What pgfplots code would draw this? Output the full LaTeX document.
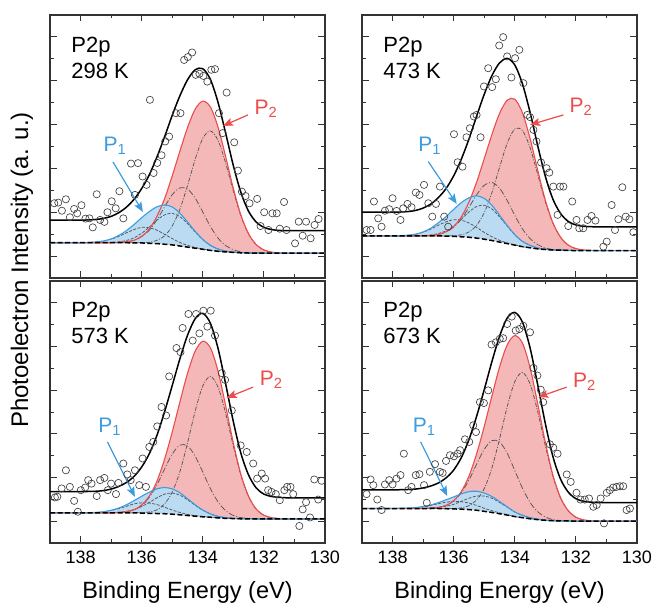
\documentclass[border=0pt]{standalone}
\usepackage{fontspec}
\setmainfont{Liberation Sans}
\usepackage{pgfplots}
\pgfplotsset{compat=1.18}
\usepackage{pgfplotstable}
\usepgfplotslibrary{fillbetween}
\usetikzlibrary{arrows.meta}

\definecolor{redline}{HTML}{EE4B4B}
\definecolor{redfill}{HTML}{F5B8B8}
\definecolor{blueline}{HTML}{3D9BDE}
\definecolor{bluefill}{HTML}{BADBF2}
\definecolor{compgray}{HTML}{555555}
\definecolor{framecol}{HTML}{333333}

% columns: x, baseline, P2a, P2b, P1a, P1b (components above baseline)
\pgfplotstableread{
x base a b c d
139 1.61 0 0 0 0
138.75 1.61 0 0 0 0
138.5 1.61 0 0 0 0
138.25 1.61 0 0 0 0
138 1.61 0 0 0 0
137.75 1.61 0 0 0 0.01
137.5 1.61 0 0 0 0.03
137.25 1.61 0 0 0 0.08
137 1.61 0 0 0.01 0.16
136.75 1.61 0 0.01 0.04 0.29
136.5 1.61 0 0.04 0.10 0.45
136.25 1.60 0 0.12 0.23 0.61
136 1.60 0.01 0.29 0.44 0.71
135.75 1.58 0.05 0.60 0.74 0.71
135.5 1.57 0.15 1.09 1.07 0.61
135.25 1.54 0.38 1.70 1.34 0.45
135 1.51 0.86 2.29 1.44 0.29
134.75 1.46 1.67 2.65 1.34 0.16
134.5 1.41 2.80 2.65 1.07 0.08
134.25 1.36 4.05 2.29 0.74 0.03
134 1.31 5.06 1.70 0.44 0.01
133.75 1.26 5.45 1.09 0.23 0
133.5 1.22 5.06 0.60 0.10 0
133.25 1.19 4.05 0.29 0.04 0
133 1.17 2.80 0.12 0.01 0
132.75 1.15 1.67 0.04 0 0
132.5 1.14 0.86 0.01 0 0
132.25 1.14 0.38 0 0 0
132 1.13 0.15 0 0 0
131.75 1.13 0.05 0 0 0
131.5 1.13 0.01 0 0 0
131.25 1.13 0 0 0 0
131 1.13 0 0 0 0
130.75 1.13 0 0 0 0
130.5 1.13 0 0 0 0
130.25 1.13 0 0 0 0
130 1.13 0 0 0 0
}\tA

\pgfplotstableread{
x base a b c d
139 1.92 0 0 0 0
138.75 1.92 0 0 0 0
138.5 1.92 0 0 0 0
138.25 1.92 0 0 0 0
138 1.92 0 0 0 0
137.75 1.92 0 0 0 0.01
137.5 1.92 0 0 0 0.03
137.25 1.92 0 0 0 0.08
137 1.92 0 0.01 0.01 0.17
136.75 1.92 0 0.02 0.04 0.31
136.5 1.92 0 0.07 0.11 0.49
136.25 1.91 0.01 0.19 0.24 0.65
136 1.90 0.03 0.42 0.47 0.76
135.75 1.88 0.09 0.81 0.80 0.76
135.5 1.86 0.24 1.36 1.15 0.65
135.25 1.82 0.58 1.97 1.44 0.49
135 1.77 1.21 2.46 1.55 0.31
134.75 1.71 2.18 2.65 1.44 0.17
134.5 1.64 3.40 2.46 1.15 0.08
134.25 1.57 4.57 1.97 0.80 0.03
134 1.50 5.30 1.36 0.47 0.01
133.75 1.43 5.30 0.81 0.24 0
133.5 1.38 4.57 0.42 0.11 0
133.25 1.33 3.40 0.19 0.04 0
133 1.30 2.18 0.07 0.01 0
132.75 1.28 1.21 0.02 0 0
132.5 1.27 0.58 0.01 0 0
132.25 1.26 0.24 0 0 0
132 1.25 0.09 0 0 0
131.75 1.25 0.03 0 0 0
131.5 1.25 0.01 0 0 0
131.25 1.25 0 0 0 0
131 1.25 0 0 0 0
130.75 1.25 0 0 0 0
130.5 1.25 0 0 0 0
130.25 1.25 0 0 0 0
130 1.25 0 0 0 0
}\tB

\pgfplotstableread{
x base a b c d
139 1.38 0 0 0 0
138.75 1.38 0 0 0 0
138.5 1.38 0 0 0 0
138.25 1.38 0 0 0 0
138 1.38 0 0 0 0
137.75 1.38 0 0 0 0.01
137.5 1.38 0 0 0 0.02
137.25 1.38 0 0 0 0.05
137 1.38 0 0 0.01 0.11
136.75 1.38 0 0.02 0.03 0.19
136.5 1.38 0 0.05 0.07 0.30
136.25 1.38 0 0.14 0.15 0.41
136 1.37 0.02 0.35 0.30 0.47
135.75 1.36 0.06 0.73 0.50 0.47
135.5 1.35 0.17 1.31 0.72 0.41
135.25 1.34 0.45 2.05 0.90 0.30
135 1.32 1.01 2.75 0.97 0.19
134.75 1.29 1.97 3.19 0.90 0.11
134.5 1.26 3.32 3.19 0.72 0.05
134.25 1.23 4.80 2.75 0.50 0.02
134 1.20 5.99 2.05 0.30 0.01
133.75 1.18 6.45 1.31 0.15 0
133.5 1.15 5.99 0.73 0.07 0
133.25 1.13 4.80 0.35 0.03 0
133 1.12 3.32 0.14 0.01 0
132.75 1.11 1.97 0.05 0 0
132.5 1.11 1.01 0.02 0 0
132.25 1.10 0.45 0 0 0
132 1.10 0.17 0 0 0
131.75 1.10 0.06 0 0 0
131.5 1.10 0.02 0 0 0
131.25 1.10 0 0 0 0
131 1.10 0 0 0 0
130.75 1.10 0 0 0 0
130.5 1.10 0 0 0 0
130.25 1.10 0 0 0 0
130 1.10 0 0 0 0
}\tC

\pgfplotstableread{
x base a b c d
139 1.58 0 0 0 0
138.75 1.58 0 0 0 0
138.5 1.58 0 0 0 0
138.25 1.58 0 0 0 0
138 1.58 0 0 0 0
137.75 1.58 0 0 0 0.01
137.5 1.58 0 0 0 0.02
137.25 1.58 0 0 0 0.04
137 1.58 0 0 0.01 0.08
136.75 1.58 0 0.02 0.02 0.14
136.5 1.58 0 0.05 0.05 0.22
136.25 1.57 0 0.15 0.11 0.30
136 1.56 0.02 0.36 0.21 0.34
135.75 1.55 0.06 0.75 0.36 0.34
135.5 1.53 0.18 1.35 0.52 0.30
135.25 1.50 0.47 2.11 0.65 0.22
135 1.45 1.04 2.84 0.70 0.14
134.75 1.40 2.03 3.29 0.65 0.08
134.5 1.34 3.42 3.29 0.52 0.04
134.25 1.28 4.95 2.84 0.36 0.02
134 1.21 6.18 2.11 0.21 0
133.75 1.16 6.65 1.35 0.11 0
133.5 1.11 6.18 0.75 0.05 0
133.25 1.07 4.95 0.36 0.02 0
133 1.04 3.42 0.15 0.01 0
132.75 1.02 2.03 0.05 0 0
132.5 1.01 1.04 0.02 0 0
132.25 1.01 0.47 0 0 0
132 1.00 0.18 0 0 0
131.75 1.00 0.06 0 0 0
131.5 1.00 0.02 0 0 0
131.25 1.00 0 0 0 0
131 1.00 0 0 0 0
130.75 1.00 0 0 0 0
130.5 1.00 0 0 0 0
130.25 1.00 0 0 0 0
130 1.00 0 0 0 0
}\tD

\pgfplotsset{
  panel/.style={
    scale only axis, width=275pt,
    xmin=130, xmax=139, x dir=reverse, ymin=0, ymax=12,
    xtick={130,132,134,136,138}, minor xtick={131,133,135,137,139},
    ytick={1,3,5,7,9,11}, minor ytick={2,4,6,8,10},
    yticklabels={},
    tick align=inside, tick pos=both,
    major tick length=6.5pt, minor tick length=3.5pt,
    every tick/.style={framecol, line width=0.9pt},
    axis line style={framecol, line width=1.1pt},
    xticklabel style={font=\fontsize{18}{20}\selectfont, yshift=-4pt},
    /pgf/number format/assume math mode=true,
  },
  comp/.style={compgray, line width=0.75pt, smooth},
}

\newcommand{\curves}[3]{%
  \addplot[draw=none, smooth, name path=B#3, forget plot] table[x=x, y=base]{#1};
  \addplot[draw=none, smooth, name path=R#3, forget plot] table[x=x, y expr=\thisrow{base}+\thisrow{a}+\thisrow{b}]{#1};
  \addplot[draw=none, smooth, name path=U#3, forget plot] table[x=x, y expr=\thisrow{base}+\thisrow{c}+\thisrow{d}]{#1};
  \addplot[fill=redfill, draw=none, forget plot] fill between[of=R#3 and B#3];
  \addplot[fill=bluefill, draw=none, forget plot] fill between[of=U#3 and B#3];
  \addplot[comp, dash pattern=on 4pt off 1.5pt on 1pt off 1.5pt] table[x=x, y expr=\thisrow{base}+\thisrow{a}]{#1};
  \addplot[comp, dash pattern=on 6pt off 2pt on 1pt off 2pt] table[x=x, y expr=\thisrow{base}+\thisrow{b}]{#1};
  \addplot[comp, dash pattern=on 3pt off 1.5pt] table[x=x, y expr=\thisrow{base}+\thisrow{c}]{#1};
  \addplot[comp, dash pattern=on 3pt off 1.5pt] table[x=x, y expr=\thisrow{base}+\thisrow{d}]{#1};
  \addplot[redline, line width=1.1pt, smooth] table[x=x, y expr=\thisrow{base}+\thisrow{a}+\thisrow{b}]{#1};
  \addplot[blueline, line width=1.1pt, smooth] table[x=x, y expr=\thisrow{base}+\thisrow{c}+\thisrow{d}]{#1};
  \addplot[black, line width=1.5pt, dash pattern=on 5pt off 2.5pt, smooth] table[x=x, y=base]{#1};
  \addplot[black, line width=1.5pt, smooth] table[x=x, y expr=\thisrow{base}+\thisrow{a}+\thisrow{b}+\thisrow{c}+\thisrow{d}+#2]{#1};
}

\tikzset{
  pts/.style={only marks, mark=o, mark size=3.6pt, mark options={line width=0.65pt, draw=black!75}},
  lab/.style={anchor=base west, font=\fontsize{22}{26}\selectfont},
  plab/.style={anchor=base west, font=\fontsize{21}{25}\selectfont},
  arr/.style={-{Stealth[length=10pt,width=8pt,inset=2pt]}, line width=1.2pt},
}

\begin{document}
\begin{tikzpicture}

% ---------------- 298 K ----------------
\begin{axis}[panel, height=263pt, at={(50pt,326pt)}, anchor=south west, xticklabels={}]
\curves{\tA}{1.03}{a}
\addplot[pts] coordinates {
(138.86,3.41) (138.73,3.44) (138.61,3.07) (138.48,3.59) (138.35,2.77) (138.21,3.15) (138.11,2.95) (137.97,3.32) (137.84,2.71) (137.71,2.72) (137.60,2.31) (137.47,3.82) (137.36,2.65) (137.22,2.56) (137.12,3.00) (136.98,3.50) (136.85,3.18) (136.73,3.96) (136.60,2.72) (136.35,5.22) (136.22,3.79) (136.12,5.24) (135.97,4.63) (135.84,4.25) (135.73,8.13) (135.61,4.79) (135.49,5.25) (135.35,5.60) (135.23,6.23) (135.10,6.45) (134.88,7.52) (134.73,7.52) (134.61,9.95) (134.49,10.08) (134.35,10.29) (134.23,9.27) (134.11,9.32) (133.98,9.22) (133.85,8.96) (133.72,9.50) (133.60,9.53) (133.47,7.52) (133.35,6.61) (133.22,8.46) (132.97,6.19) (132.85,4.90) (132.72,3.94) (132.60,3.74) (132.47,3.41) (132.22,3.61) (132.11,2.37) (131.99,3.00) (131.85,2.19) (131.72,2.95) (131.58,2.95) (131.48,2.25) (131.34,3.47) (131.26,2.19) (130.98,1.58) (130.86,2.57) (130.73,1.93) (130.62,2.57) (130.47,1.81) (130.34,2.42) (130.21,2.69)
};
\node[lab] at (rel axis cs:0.065,0.857) {P2p};
\node[lab] at (rel axis cs:0.065,0.759) {298 K};
\draw[arr, blueline] (axis cs:136.94,5.30) -- (axis cs:135.96,3.01);
\draw[arr, redline] (axis cs:132.52,7.44) -- (axis cs:133.34,6.94);
\node[plab, blueline] at (axis cs:137.36,5.77) {P\textsubscript{1}};
\node[plab, redline] at (axis cs:132.42,7.48) {P\textsubscript{2}};
\end{axis}

% ---------------- 473 K ----------------
\begin{axis}[panel, height=263pt, at={(362pt,326pt)}, anchor=south west, xticklabels={}]
\curves{\tB}{1.08}{b}
\addplot[pts] coordinates {
(138.85,2.19) (138.72,2.19) (138.61,3.49) (138.47,2.72) (138.36,2.34) (138.25,3.07) (138.11,3.14) (138.00,3.64) (137.87,3.06) (137.74,2.65) (137.65,3.18) (137.51,3.38) (137.38,3.23) (137.24,3.90) (137.12,3.79) (136.97,4.25) (136.83,3.41) (136.70,2.80) (136.58,3.38) (136.45,4.17) (136.31,2.80) (136.18,2.34) (135.99,6.56) (135.87,5.28) (135.71,5.08) (135.58,6.42) (135.47,6.83) (135.34,7.37) (135.25,7.44) (135.12,6.42) (135.01,8.74) (134.87,9.57) (134.74,8.71) (134.62,9.07) (134.51,10.61) (134.38,10.99) (134.25,10.11) (134.11,9.15) (133.99,10.03) (133.85,10.41) (133.72,8.89) (133.59,7.44) (133.50,7.34) (133.39,6.76) (133.29,6.23) (133.14,5.27) (132.96,5.01) (132.87,4.81) (132.74,4.17) (132.60,2.88) (132.52,4.17) (132.41,4.17) (132.25,2.37) (132.12,3.49) (131.98,2.65) (131.89,2.27) (131.76,2.27) (131.62,2.65) (131.49,2.83) (131.36,2.62) (131.10,1.43) (130.99,1.66) (130.83,3.33) (130.72,2.19) (130.61,2.68) (130.48,4.14) (130.37,2.80) (130.25,2.68) (130.12,2.09)
};
\node[lab] at (rel axis cs:0.065,0.857) {P2p};
\node[lab] at (rel axis cs:0.065,0.759) {473 K};
\draw[arr, blueline] (axis cs:136.83,5.31) -- (axis cs:135.90,3.38);
\draw[arr, redline] (axis cs:132.41,7.44) -- (axis cs:133.50,6.99);
\node[plab, blueline] at (axis cs:137.27,5.77) {P\textsubscript{1}};
\node[plab, redline] at (axis cs:132.32,7.55) {P\textsubscript{2}};
\end{axis}

% ---------------- 573 K ----------------
\begin{axis}[panel, height=262pt, at={(50pt,61pt)}, anchor=south west,
  xticklabels={130,132,134,136,138},
  xlabel={Binding Energy (eV)},
  xlabel style={font=\fontsize{23.5}{28}\selectfont, at={(axis description cs:0.5,-0.189)}, anchor=center}]
\curves{\tC}{0.97}{c}
\addplot[pts] coordinates {
(138.84,2.09) (138.76,2.12) (138.62,2.50) (138.48,3.33) (138.35,2.57) (138.21,1.93) (138.09,1.43) (137.99,2.42) (137.85,2.54) (137.75,2.88) (137.64,2.72) (137.47,2.15) (137.36,2.88) (137.22,2.98) (137.11,2.42) (137.00,2.72) (136.84,2.24) (136.76,2.75) (136.60,3.64) (136.47,3.14) (136.36,2.88) (136.22,3.33) (136.08,2.65) (135.97,3.87) (135.86,2.57) (135.75,4.40) (135.62,4.63) (135.49,5.34) (135.35,6.23) (135.20,5.84) (135.10,7.63) (134.86,8.93) (134.73,8.74) (134.66,9.85) (134.47,10.49) (134.33,9.27) (134.22,10.49) (134.11,9.60) (133.98,10.64) (133.85,9.91) (133.74,10.64) (133.60,9.50) (133.38,7.78) (133.27,7.47) (133.05,6.07) (132.76,4.47) (132.56,4.17) (132.35,3.64) (132.22,2.95) (132.07,3.18) (131.96,2.95) (131.86,2.42) (131.75,2.34) (131.61,2.24) (131.48,1.96) (131.33,2.42) (131.24,2.57) (131.13,2.57) (131.04,2.24) (130.84,0.78) (130.73,1.54) (130.62,1.87) (130.49,1.17) (130.35,2.91) (130.22,1.99) (130.11,2.85)
};
\node[lab] at (rel axis cs:0.065,0.862) {P2p};
\node[lab] at (rel axis cs:0.065,0.762) {573 K};
\draw[arr, blueline] (axis cs:137.12,4.63) -- (axis cs:136.22,2.11);
\draw[arr, redline] (axis cs:132.35,7.14) -- (axis cs:133.22,6.65);
\node[plab, blueline] at (axis cs:137.53,5.08) {P\textsubscript{1}};
\node[plab, redline] at (axis cs:132.25,7.21) {P\textsubscript{2}};
\end{axis}

% ---------------- 673 K ----------------
\begin{axis}[panel, height=262pt, at={(362pt,61pt)}, anchor=south west,
  xticklabels={130,132,134,136,138},
  xlabel={Binding Energy (eV)},
  xlabel style={font=\fontsize{23.5}{28}\selectfont, at={(axis description cs:0.5,-0.189)}, anchor=center}]
\curves{\tD}{0.85}{d}
\addplot[pts] coordinates {
(138.85,2.24) (138.72,2.91) (138.63,2.65) (138.50,1.99) (138.36,1.51) (138.25,2.68) (138.11,2.88) (138.00,2.68) (137.87,2.95) (137.74,3.11) (137.63,4.09) (137.49,2.42) (137.38,2.57) (137.24,3.11) (137.12,3.15) (136.97,2.65) (136.88,1.84) (136.78,3.26) (136.61,3.61) (136.45,3.26) (136.36,3.21) (136.25,3.76) (136.12,4.02) (135.99,3.97) (135.87,4.09) (135.79,4.25) (135.63,4.75) (135.49,4.63) (135.36,5.39) (135.27,5.08) (135.14,6.45) (135.01,6.41) (134.87,6.99) (134.76,9.09) (134.62,9.19) (134.49,9.35) (134.38,9.38) (134.25,10.03) (134.10,10.37) (133.97,9.73) (133.85,9.80) (133.72,9.95) (133.50,9.65) (133.39,8.02) (133.26,7.67) (133.15,7.02) (133.07,6.45) (132.85,4.52) (132.74,4.37) (132.60,4.09) (132.30,3.14) (132.17,2.80) (131.98,2.30) (131.85,1.99) (131.71,1.99) (131.57,2.04) (131.43,1.66) (131.32,1.74) (131.19,2.04) (131.08,0.90) (130.99,2.30) (130.89,2.42) (130.78,2.54) (130.67,2.57) (130.56,2.60) (130.45,2.60) (130.34,1.51) (130.23,1.58)
};
\node[lab] at (rel axis cs:0.065,0.862) {P2p};
\node[lab] at (rel axis cs:0.065,0.762) {673 K};
\draw[arr, blueline] (axis cs:137.08,4.63) -- (axis cs:136.21,2.15);
\draw[arr, redline] (axis cs:132.30,7.14) -- (axis cs:133.23,6.68);
\node[plab, blueline] at (axis cs:137.45,5.08) {P\textsubscript{1}};
\node[plab, redline] at (axis cs:132.21,7.11) {P\textsubscript{2}};
\end{axis}

\node[rotate=90, font=\fontsize{24}{28}\selectfont] at (22pt,334pt) {Photoelectron Intensity (a. u.)};

\pgfresetboundingbox
\useasboundingbox (0,0) rectangle (655pt,604pt);
\end{tikzpicture}
\end{document}
